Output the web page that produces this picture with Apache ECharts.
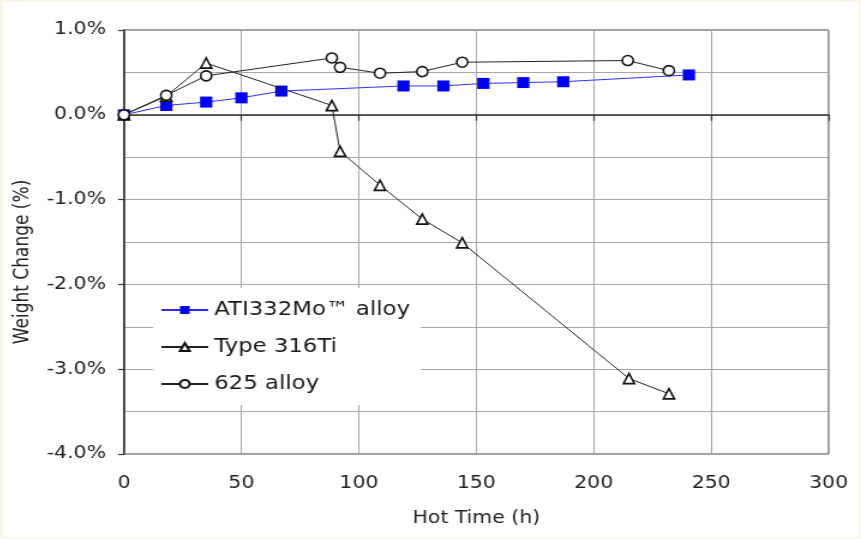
<!DOCTYPE html>
<html><head><meta charset="utf-8">
<script src="https://cdn.jsdelivr.net/npm/echarts@6/dist/echarts.min.js"></script>
<style>
html,body{margin:0;padding:0;background:#f9f5ea;width:861px;height:539px;overflow:hidden;}
#wrap{position:absolute;left:3px;top:2px;width:856px;height:535px;background:#fff;overflow:hidden;}
#chart{width:713.33px;height:535px;transform:scaleX(1.2);transform-origin:0 0;}
</style></head><body><div id="wrap"><div id="chart"></div></div>
<script>
const seriesNames = ['ATI332Mo\u2122 alloy', 'Type 316Ti', '625 alloy'];
const hoursATI = [0, 18, 35, 50, 67, 119, 136, 153, 170, 187, 240.5];
const weightATI = [0, 0.11, 0.15, 0.20, 0.28, 0.34, 0.34, 0.37, 0.38, 0.39, 0.47];
const hours316 = [0, 18, 35, 88.5, 92, 109, 127, 144, 215, 232];
const weight316 = [0, 0.22, 0.61, 0.11, -0.43, -0.83, -1.23, -1.51, -3.11, -3.29];
const hours625 = [0, 18, 35, 88.5, 92, 109, 127, 144, 214.5, 232];
const weight625 = [0, 0.23, 0.46, 0.67, 0.56, 0.49, 0.51, 0.62, 0.64, 0.52];
const xTicks = [0, 50, 100, 150, 200, 250, 300];
const yTicks = [-4, -3, -2, -1, 0, 1];

const zip = (xs, ys) => xs.map((x, i) => [x, ys[i]]);
const font = 'DejaVu Sans';
const chart = echarts.init(document.getElementById('chart'));
chart.setOption({
  animation: false,
  backgroundColor: '#ffffff',
  grid: { left: 100.8, right: 25, top: 28, bottom: 83, show: true, borderColor: '#444', borderWidth: 1, backgroundColor: 'transparent' },
  legend: {
    orient: 'vertical', left: 125, top: 286,
    backgroundColor: '#ffffff', borderWidth: 0,
    padding: [12, 9, 11, 6],
    itemWidth: 39, itemHeight: 10, itemGap: 17,
    textStyle: { fontFamily: font, fontSize: 19, color: '#1a1a1a', lineHeight: 20 },
    data: seriesNames
  },
  xAxis: {
    type: 'value', min: xTicks[0], max: xTicks[xTicks.length - 1], interval: 50,
    name: 'Hot Time (h)', nameLocation: 'middle', nameGap: 56,
    nameTextStyle: { fontFamily: font, fontSize: 17, color: '#222' },
    axisLine: { show: true, lineStyle: { color: '#333', width: 1.5 } },
    axisTick: { show: true, length: 6, lineStyle: { color: '#333', width: 1.2 } },
    axisLabel: { fontFamily: font, fontSize: 17, color: '#222', margin: 21 },
    splitLine: { show: true, lineStyle: { color: '#a6a6a6', width: 1 } }
  },
  yAxis: {
    type: 'value', min: yTicks[0], max: yTicks[yTicks.length - 1], interval: 1,
    name: 'Weight Change (%)', nameLocation: 'middle', nameGap: 70,
    nameTextStyle: { fontFamily: font, fontSize: 17, color: '#222', padding: [0, 40, 0, 0] },
    axisLine: { show: true, lineStyle: { color: '#333', width: 1.5 } },
    axisTick: { show: true, length: 5, lineStyle: { color: '#333', width: 1.2 } },
    axisLabel: { fontFamily: font, fontSize: 17, color: '#222', margin: 15, formatter: v => v.toFixed(1) + '%' },
    splitLine: { show: true, lineStyle: { color: '#a6a6a6', width: 1 } },
    minorTick: { show: false, splitNumber: 2 },
    minorSplitLine: { show: true, lineStyle: { color: '#a6a6a6', width: 1 } }
  },
  series: [
    {
      name: seriesNames[0], type: 'line', data: zip(hoursATI, weightATI),
      symbol: 'rect', symbolSize: [10.2, 11],
      itemStyle: { color: '#0000ff' },
      lineStyle: { color: '#3030ff', width: 1 }, z: 2
    },
    {
      name: seriesNames[1], type: 'line', data: zip(hours316, weight316),
      symbol: 'triangle', symbolSize: [9.2, 10.2],
      itemStyle: { color: '#ffffff', borderColor: '#111', borderWidth: 1.6 },
      lineStyle: { color: '#222', width: 1 }, z: 3
    },
    {
      name: seriesNames[2], type: 'line', data: zip(hours625, weight625),
      symbol: 'circle', symbolSize: [9.2, 10],
      itemStyle: { color: '#ffffff', borderColor: '#111', borderWidth: 1.6 },
      lineStyle: { color: '#222', width: 1 }, z: 4
    }
  ]
});
</script></body></html>
